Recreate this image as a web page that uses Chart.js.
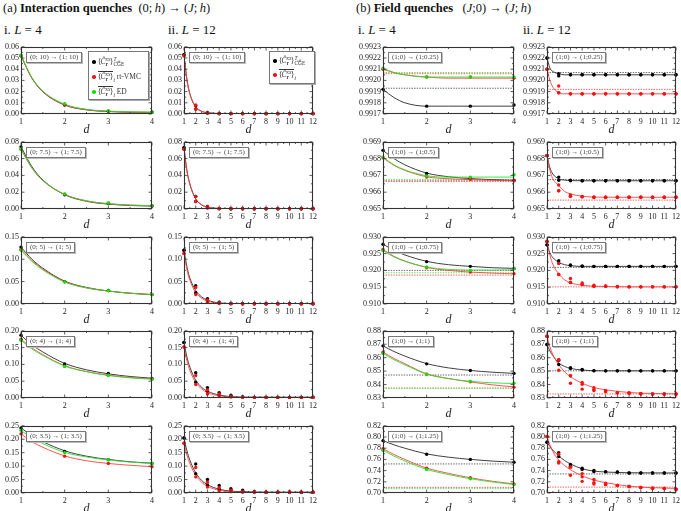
<!DOCTYPE html>
<html><head><meta charset="utf-8">
<script src="https://cdn.jsdelivr.net/npm/chart.js@4.4.1/dist/chart.umd.min.js"></script>
<style>
html,body{margin:0;padding:0;background:#fff;}
#wrap{position:relative;width:681px;height:511px;overflow:hidden;font-family:"Liberation Serif",serif;color:#111;}
canvas{position:absolute;}
.hdr{position:absolute;font-size:12.5px;white-space:nowrap;line-height:14px;}
.sub{position:absolute;font-size:13px;white-space:nowrap;line-height:15px;}
.qlab{position:absolute;font-size:7px;color:#444;border:1px solid #777;box-shadow:1px 1px 0 #bbb;background:#fff;padding:0 3px;line-height:9px;white-space:nowrap;}
.leg{position:absolute;background:#fff;border:1px solid #777;box-shadow:1px 1px 0 #aaa;font-size:7.5px;color:#333;}
.leg .row{position:absolute;left:0;height:14px;display:flex;align-items:center;white-space:nowrap;}
.leg .dot{width:3.6px;height:3.6px;border-radius:50%;display:inline-block;margin:0 2px 0 3px;}
.ss{display:inline-flex;flex-direction:column;font-size:72%;line-height:1;vertical-align:middle;}
.ov{border-top:0.7px solid #333;}
sub{font-size:72%;line-height:0;}
</style></head>
<body><div id="wrap"></div>
<script>
// ---------- axes / categories ----------
const dL4 = [1,2,3,4];
const dL12 = [1,2,3,4,5,6,7,8,9,10,11,12];
const cxL4 = [1,1.25,1.5,2,2.5,3,3.5,4];
const cxL12 = [1,1.25,1.5,2,2.5,3,4,5,6,8,12];
const yTicksA = [[0,0.01,0.02,0.03,0.04,0.05,0.06],[0,0.02,0.04,0.06,0.08],[0,0.05,0.10,0.15],[0,0.05,0.10,0.15,0.20],[0,0.05,0.10,0.15,0.20,0.25]];
const yTicksB = [[0.9917,0.9918,0.9919,0.9920,0.9921,0.9922,0.9923],[0.965,0.966,0.967,0.968,0.969],[0.910,0.915,0.920,0.925,0.930],[0.83,0.84,0.85,0.86,0.87,0.88],[0.70,0.72,0.74,0.76,0.78,0.80,0.82]];
const decA = [2,2,2,2,2];
const decB = [4,3,3,2,2];
const quenchA = ['(0; 10) → (1; 10)','(0; 7.5) → (1; 7.5)','(0; 5) → (1; 5)','(0; 4) → (1; 4)','(0; 3.5) → (1; 3.5)'];
const quenchB = ['(1;0) → (1;0.25)','(1;0) → (1;0.5)','(1;0) → (1;0.75)','(1;0) → (1;1)','(1;0) → (1;1.25)'];
const seriesNames = ['CGE','rt-VMC','ED'];

// ---------- (a) L=4 ----------
const a4Cge = [[0.052,0.008,0.0025,0.0015],[0.074,0.017,0.0065,0.0035],[0.127,0.050,0.030,0.021],[0.187,0.101,0.073,0.058],[0.242,0.155,0.124,0.110]];
const a4Vmc = [[0.052,0.0085,0.0026,0.0015],[0.071,0.0175,0.007,0.004],[0.122,0.050,0.030,0.021],[0.175,0.095,0.068,0.057],[0.220,0.137,0.110,0.098]];
const a4Ed  = [[0.0525,0.0093,0.0027,0.0016],[0.0715,0.018,0.0072,0.004],[0.120,0.049,0.030,0.021],[0.172,0.094,0.068,0.056],[0.233,0.150,0.124,0.110]];
const a4CgeFit = [[0.052,0.0319,0.0198,0.0080,0.0037,0.0022,0.0016,0.0014],[0.074,0.0504,0.0346,0.0170,0.0092,0.0058,0.0042,0.0035],[0.127,0.100,0.080,0.051,0.037,0.029,0.024,0.021],[0.187,0.158,0.137,0.103,0.084,0.072,0.064,0.059],[0.242,0.213,0.191,0.157,0.137,0.125,0.116,0.111]];
const a4VmcFit = [[0.052,0.0321,0.0201,0.0083,0.0039,0.0024,0.0017,0.0015],[0.071,0.0487,0.0337,0.0172,0.0096,0.0062,0.0046,0.0039],[0.122,0.097,0.078,0.050,0.036,0.029,0.024,0.021],[0.175,0.149,0.129,0.096,0.079,0.068,0.061,0.057],[0.220,0.191,0.170,0.138,0.120,0.110,0.103,0.098]];
const a4EdFit  = [[0.0525,0.0325,0.0205,0.0088,0.0042,0.0026,0.0019,0.0016],[0.0715,0.049,0.034,0.0175,0.0098,0.0064,0.0047,0.004],[0.120,0.095,0.076,0.049,0.036,0.029,0.024,0.021],[0.172,0.146,0.127,0.095,0.078,0.067,0.060,0.056],[0.233,0.205,0.184,0.151,0.134,0.123,0.115,0.110]];

// ---------- (a) L=12 ----------
const a12CgeHi = [
 [0.053,0.0075,0.0012,0.0004,0.0003,0.0003,0.0003,0.0003,0.0003,0.0003,0.0003,0.0003],
 [0.073,0.015,0.003,0.0005,0.0003,0.0003,0.0003,0.0003,0.0003,0.0003,0.0003,0.0003],
 [0.120,0.041,0.012,0.004,0.001,0.0005,0.0004,0.0004,0.0004,0.0004,0.0004,0.0004],
 [0.165,0.075,0.031,0.016,0.008,0.003,0.002,0.002,0.002,0.002,0.002,0.002],
 [0.205,0.108,0.050,0.028,0.016,0.010,0.005,0.003,0.003,0.004,0.003,0.003]];
const a12CgeLo = [
 [0.053,0.0045,0.0008,0.0003,0.0003,0.0003,0.0003,0.0003,0.0003,0.0003,0.0003,0.0003],
 [0.073,0.009,0.0015,0.0004,0.0003,0.0003,0.0003,0.0003,0.0003,0.0003,0.0003,0.0003],
 [0.120,0.025,0.008,0.002,0.0008,0.0005,0.0004,0.0004,0.0004,0.0004,0.0004,0.0004],
 [0.165,0.047,0.020,0.009,0.005,0.003,0.002,0.002,0.002,0.002,0.002,0.002],
 [0.205,0.072,0.030,0.015,0.010,0.006,0.004,0.003,0.003,0.003,0.003,0.003]];
const a12VmcHi = [
 [0.052,0.008,0.0012,0.0004,0.0003,0.0003,0.0003,0.0003,0.0003,0.0003,0.0003,0.0003],
 [0.071,0.015,0.003,0.0005,0.0003,0.0003,0.0003,0.0003,0.0003,0.0003,0.0003,0.0003],
 [0.113,0.037,0.009,0.003,0.001,0.0005,0.0004,0.0004,0.0004,0.0004,0.0004,0.0004],
 [0.152,0.067,0.024,0.012,0.005,0.003,0.002,0.002,0.002,0.002,0.002,0.002],
 [0.185,0.095,0.040,0.020,0.010,0.006,0.004,0.003,0.003,0.004,0.003,0.003]];
const a12VmcLo = [
 [0.052,0.0045,0.0008,0.0003,0.0003,0.0003,0.0003,0.0003,0.0003,0.0003,0.0003,0.0003],
 [0.071,0.009,0.0012,0.0003,0.0003,0.0003,0.0003,0.0003,0.0003,0.0003,0.0003,0.0003],
 [0.113,0.021,0.004,0.001,0.0005,0.0004,0.0004,0.0004,0.0004,0.0004,0.0004,0.0004],
 [0.152,0.040,0.012,0.007,0.003,0.002,0.002,0.002,0.002,0.002,0.002,0.002],
 [0.185,0.060,0.022,0.008,0.005,0.003,0.003,0.002,0.002,0.002,0.002,0.002]];
const a12CgeFit = [
 [0.053,0.031,0.018,0.0062,0.0024,0.0011,0.0004,0.0003,0.0003,0.0003,0.0003],
 [0.073,0.046,0.030,0.012,0.005,0.0022,0.0006,0.0003,0.0003,0.0003,0.0003],
 [0.120,0.083,0.058,0.030,0.016,0.0085,0.0025,0.0008,0.0004,0.0003,0.0003],
 [0.165,0.122,0.092,0.053,0.032,0.020,0.009,0.004,0.0025,0.002,0.002],
 [0.205,0.157,0.122,0.075,0.047,0.031,0.014,0.007,0.005,0.003,0.003]];
const a12VmcFit = [
 [0.052,0.030,0.018,0.0065,0.0025,0.0012,0.0004,0.0003,0.0003,0.0003,0.0003],
 [0.071,0.045,0.029,0.012,0.005,0.0022,0.0006,0.0003,0.0003,0.0003,0.0003],
 [0.113,0.077,0.053,0.026,0.013,0.0065,0.0018,0.0006,0.0003,0.0003,0.0003],
 [0.152,0.111,0.082,0.046,0.027,0.016,0.0065,0.003,0.002,0.002,0.002],
 [0.185,0.141,0.109,0.066,0.040,0.025,0.010,0.005,0.003,0.002,0.002]];

// ---------- (b) L=4 ----------
const b4Cge = [[0.99192,0.99177,0.99177,0.99178],[0.96849,0.96711,0.96681,0.96671],[0.9278,0.9226,0.9212,0.9206],[0.8688,0.8554,0.8505,0.8483],[0.7935,0.7692,0.7600,0.7548]];
const b4Vmc = [[0.99210,0.99203,0.99203,0.99202],[0.96805,0.96690,0.96677,0.96668],[0.9262,0.9208,0.9195,0.9190],[0.8641,0.8478,0.8420,0.8380],[0.7790,0.7444,0.7271,0.7162]];
const b4Ed  = [[0.99211,0.99203,0.99203,0.99203],[0.96809,0.96696,0.96690,0.96704],[0.9259,0.9210,0.9200,0.9205],[0.8632,0.8478,0.8424,0.8410],[0.7762,0.7421,0.7254,0.7150]];
const b4CgeFit = [[0.99192,0.991847,0.99180,0.99177,0.99177,0.99177,0.99177,0.99177],[0.96849,0.96800,0.96763,0.96714,0.96692,0.96681,0.96675,0.96671],[0.9278,0.9260,0.9246,0.9227,0.9217,0.9212,0.9208,0.9206],[0.8688,0.8646,0.8612,0.8556,0.8524,0.8505,0.8492,0.8483],[0.7935,0.7860,0.7800,0.7698,0.7640,0.7600,0.7570,0.7550]];
const b4VmcFit = [[0.99210,0.99207,0.99205,0.99203,0.99202,0.99202,0.99202,0.99202],[0.96805,0.96760,0.96730,0.96692,0.96680,0.96675,0.96671,0.96668],[0.9262,0.9242,0.9228,0.9209,0.9200,0.9195,0.9192,0.9190],[0.8641,0.8594,0.8555,0.8480,0.8445,0.8420,0.8398,0.8383],[0.7790,0.7688,0.7600,0.7446,0.7350,0.7272,0.7210,0.7163]];
const b4EdFit  = [[0.99211,0.99207,0.99205,0.99203,0.99203,0.99203,0.99203,0.99203],[0.96809,0.96763,0.96733,0.96698,0.96690,0.96690,0.96690,0.96690],[0.9259,0.9240,0.9227,0.9210,0.9203,0.9201,0.9201,0.9202],[0.8632,0.8585,0.8547,0.8478,0.8444,0.8424,0.8413,0.8408],[0.7762,0.7660,0.7572,0.7422,0.7330,0.7255,0.7197,0.7150]];
const b4CgeInf = [0.99193,0.96667,0.9200,0.8471,0.7519];
const b4VmcInf = [0.99206,0.96665,0.9186,0.8374,0.7100];
const b4EdInf  = [0.99207,0.96675,0.9193,0.8372,0.7082];

// ---------- (b) L=12 ----------
const b12CgeHi = [
 [0.99220,0.99206,0.99205,0.99205,0.99205,0.99205,0.99205,0.99205,0.99205,0.99205,0.99205,0.99205],
 [0.96818,0.96690,0.96672,0.96668,0.96668,0.96668,0.96668,0.96668,0.96668,0.96668,0.96668,0.96668],
 [0.9276,0.9229,0.9216,0.9213,0.9212,0.9212,0.9212,0.9212,0.9212,0.9212,0.9212,0.9212],
 [0.8698,0.8580,0.8526,0.8512,0.8504,0.8502,0.8502,0.8502,0.8502,0.8502,0.8502,0.8502],
 [0.7906,0.7721,0.7508,0.7444,0.7404,0.7381,0.7375,0.7358,0.7358,0.7358,0.7358,0.7358]];
const b12CgeLo = [
 [0.99220,0.99204,0.99205,0.99205,0.99205,0.99205,0.99205,0.99205,0.99205,0.99205,0.99205,0.99205],
 [0.96818,0.96671,0.96668,0.96668,0.96668,0.96668,0.96668,0.96668,0.96668,0.96668,0.96668,0.96668],
 [0.9276,0.9221,0.9215,0.9212,0.9212,0.9212,0.9212,0.9212,0.9212,0.9212,0.9212,0.9212],
 [0.8698,0.8549,0.8520,0.8508,0.8502,0.8502,0.8502,0.8502,0.8502,0.8502,0.8502,0.8502],
 [0.7906,0.7652,0.7479,0.7421,0.7381,0.7378,0.7372,0.7358,0.7358,0.7358,0.7358,0.7358]];
const b12VmcHi = [
 [0.99210,0.99195,0.99188,0.99188,0.99188,0.99188,0.99188,0.99188,0.99188,0.99188,0.99188,0.99188],
 [0.96818,0.96643,0.96584,0.96575,0.96570,0.96570,0.96570,0.96570,0.96570,0.96570,0.96570,0.96570],
 [0.9286,0.9221,0.9176,0.9163,0.9156,0.9154,0.9152,0.9151,0.9151,0.9151,0.9151,0.9151],
 [0.8759,0.8585,0.8466,0.8415,0.8376,0.8354,0.8339,0.8337,0.8332,0.8330,0.8330,0.8330],
 [0.8010,0.7692,0.7462,0.7346,0.7242,0.7173,0.7133,0.7115,0.7098,0.7087,0.7081,0.7069]];
const b12VmcMid = [
 [0.99210,0.99189,0.99188,0.99188,0.99188,0.99188,0.99188,0.99188,0.99188,0.99188,0.99188,0.99188],
 [0.96818,0.96609,0.96576,0.96573,0.96570,0.96570,0.96570,0.96570,0.96570,0.96570,0.96570,0.96570],
 [0.9286,0.9188,0.9164,0.9158,0.9153,0.9153,0.9151,0.9151,0.9151,0.9151,0.9151,0.9151],
 [0.8759,0.8585,0.8466,0.8402,0.8361,0.8354,0.8339,0.8337,0.8332,0.8330,0.8330,0.8330],
 [0.8010,0.7560,0.7462,0.7288,0.7185,0.7150,0.7133,0.7115,0.7098,0.7087,0.7081,0.7069]];
const b12VmcLo = [
 [0.99210,0.99189,0.99188,0.99188,0.99188,0.99188,0.99188,0.99188,0.99188,0.99188,0.99188,0.99188],
 [0.96818,0.96609,0.96576,0.96573,0.96570,0.96570,0.96570,0.96570,0.96570,0.96570,0.96570,0.96570],
 [0.9286,0.9188,0.9164,0.9158,0.9153,0.9153,0.9151,0.9151,0.9151,0.9151,0.9151,0.9151],
 [0.8759,0.8507,0.8410,0.8366,0.8356,0.8347,0.8339,0.8337,0.8332,0.8330,0.8330,0.8330],
 [0.8010,0.7537,0.7317,0.7208,0.7162,0.7150,0.7133,0.7115,0.7098,0.7087,0.7081,0.7069]];
const b12CgeFit = [
 [0.99220,0.99211,0.99208,0.99206,0.99205,0.99205,0.99205,0.99205,0.99205,0.99205,0.99205],
 [0.96818,0.96745,0.96708,0.96680,0.96672,0.96669,0.96668,0.96668,0.96668,0.96668,0.96668],
 [0.9276,0.9252,0.9238,0.9224,0.9217,0.9214,0.9212,0.9212,0.9212,0.9212,0.9212],
 [0.8698,0.8650,0.8615,0.8561,0.8535,0.8520,0.8508,0.8503,0.8502,0.8502,0.8502],
 [0.7906,0.7830,0.7765,0.7663,0.7580,0.7519,0.7433,0.7392,0.7375,0.7362,0.7358]];
const b12VmcFit = [
 [0.99210,0.99200,0.99194,0.99189,0.99188,0.99188,0.99188,0.99188,0.99188,0.99188,0.99188],
 [0.96818,0.96730,0.96680,0.96640,0.96605,0.96590,0.96576,0.96571,0.96570,0.96570,0.96570],
 [0.9286,0.9245,0.9218,0.9190,0.9172,0.9163,0.9156,0.9153,0.9152,0.9151,0.9151],
 [0.8759,0.8680,0.8622,0.8549,0.8495,0.8459,0.8410,0.8378,0.8361,0.8341,0.8330],
 [0.8010,0.7860,0.7740,0.7588,0.7490,0.7415,0.7306,0.7231,0.7185,0.7121,0.7081]];
const b12CgeInf = [0.99207,0.96675,0.9209,0.8502,0.7340];
const b12VmcInf = [0.99192,0.96553,0.9151,0.8330,0.7105];

// ---------- layout / style ----------
const F = '"Liberation Serif", serif';
const colLeft = [21,184,383,547], colRight = [152,314,514,677];
const rowTop = [46,141,236,330,425], plotH = 68;
const leftPad = [21,24,26,26], TOP = 6, RIGHT = 6, BOTTOM = 23;
const PT = {cge:'#000000', vmc:'#ff1010', ed:'#10e010'};
const LN = {cge:'#2a2a2a', vmc:'#ff4040', ed:'#30dd30'};
const INF = {cge:'#666666', vmc:'#ff5a5a', ed:'#5ae65a'};
const wrap = document.getElementById('wrap');

const framePlugin = {
  id:'frame',
  afterDatasetsDraw(chart){
    const {ctx, chartArea:a, scales:{x,y}} = chart;
    ctx.save();
    ctx.strokeStyle = '#333'; ctx.lineWidth = 1.1;
    const L = Math.round(a.left)+0.5, R = Math.round(a.right)-0.5, T = Math.round(a.top)+0.5, B = Math.round(a.bottom)-0.5;
    ctx.strokeRect(L, T, R-L, B-T);
    ctx.lineWidth = 0.8;
    ctx.beginPath();
    const xt = x.ticks.map(t=>t.value), yt = y.ticks.map(t=>t.value);
    xt.forEach((v,i)=>{
      const p = x.getPixelForValue(v);
      ctx.moveTo(p,B); ctx.lineTo(p,B-3); ctx.moveTo(p,T); ctx.lineTo(p,T+3);
      if(i<xt.length-1){const m=x.getPixelForValue((v+xt[i+1])/2);
        ctx.moveTo(m,B); ctx.lineTo(m,B-1.5); ctx.moveTo(m,T); ctx.lineTo(m,T+1.5);}
    });
    yt.forEach((v,i)=>{
      const p = y.getPixelForValue(v);
      ctx.moveTo(L,p); ctx.lineTo(L+3,p); ctx.moveTo(R,p); ctx.lineTo(R-3,p);
      if(i<yt.length-1){const m=y.getPixelForValue((v+yt[i+1])/2);
        ctx.moveTo(L,m); ctx.lineTo(L+1.5,m); ctx.moveTo(R,m); ctx.lineTo(R-1.5,m);}
    });
    ctx.stroke();
    ctx.restore();
  }
};

function pts(xs, ys, color){
  return {data:xs.map((x,i)=>({x, y:ys[i]})), showLine:false, pointRadius:1.7,
    pointBackgroundColor:color, pointBorderWidth:0, pointStyle:'circle', clip:false};
}
function curve(xs, ys, color){
  return {data:xs.map((x,i)=>({x, y:ys[i]})), showLine:true, pointRadius:0,
    borderColor:color, borderWidth:0.9, cubicInterpolationMode:'monotone', fill:false};
}
function inf(v, xMax, color){
  return {data:[{x:1,y:v},{x:xMax,y:v}], showLine:true, pointRadius:0,
    borderColor:color, borderWidth:1, borderDash:[1.4,1.2], fill:false};
}

function makeChart(col, row, datasets, xTicks, yTicks, dec){
  const lp = leftPad[col];
  const w = colRight[col]-colLeft[col]+lp+RIGHT, h = TOP+plotH+BOTTOM;
  const cv = document.createElement('canvas');
  cv.width = w; cv.height = h;
  cv.style.left = (colLeft[col]-lp)+'px'; cv.style.top = (rowTop[row]-TOP)+'px';
  cv.style.width = w+'px'; cv.style.height = h+'px';
  wrap.appendChild(cv);
  datasets.forEach((d,i)=>{ d.order = datasets.length - i; });
  new Chart(cv, {
    type:'scatter',
    data:{datasets},
    options:{
      responsive:false, animation:false, events:[],
      layout:{padding:{top:TOP, right:RIGHT, left:0, bottom:0}},
      plugins:{legend:{display:false}, tooltip:{enabled:false}},
      scales:{
        x:{type:'linear', min:xTicks[0], max:xTicks[xTicks.length-1],
          afterBuildTicks(s){ s.ticks = xTicks.map(v=>({value:v})); },
          afterFit(s){ s.height = BOTTOM; },
          grid:{display:false, drawTicks:false}, border:{display:false},
          ticks:{autoSkip:false, maxRotation:0, minRotation:0, padding:3, color:'#222',
                 font:{family:F, size:8}, callback:v=>String(v)},
          title:{display:true, text:'d', color:'#222', padding:0,
                 font:{family:F, size:12, style:'italic'}}},
        y:{type:'linear', min:yTicks[0], max:yTicks[yTicks.length-1],
          afterBuildTicks(s){ s.ticks = yTicks.map(v=>({value:v})); },
          afterFit(s){ s.width = lp; },
          grid:{display:false, drawTicks:false}, border:{display:false},
          ticks:{autoSkip:false, padding:2, color:'#222',
                 font:{family:F, size:8}, callback:v=>Number(v).toFixed(dec)}}
      }
    },
    plugins:[framePlugin]
  });
}

function addLabel(col, row, text){
  const d = document.createElement('div');
  d.className = 'qlab';
  d.style.left = (colLeft[col]+5)+'px';
  d.style.top = (rowTop[row]+6)+'px';
  d.textContent = text;
  wrap.appendChild(d);
}

// ---------- build panels ----------
for(let r=0;r<5;r++){
  makeChart(0, r, [
    curve(cxL4, a4CgeFit[r], LN.cge), curve(cxL4, a4VmcFit[r], LN.vmc), curve(cxL4, a4EdFit[r], LN.ed),
    pts(dL4, a4Cge[r], PT.cge), pts(dL4, a4Vmc[r], PT.vmc), pts(dL4, a4Ed[r], PT.ed)
  ], dL4, yTicksA[r], decA[r]);
  makeChart(1, r, [
    curve(cxL12, a12CgeFit[r], LN.cge), curve(cxL12, a12VmcFit[r], LN.vmc),
    pts(dL12, a12CgeHi[r], PT.cge), pts(dL12, a12CgeLo[r], PT.cge),
    pts(dL12, a12VmcHi[r], PT.vmc), pts(dL12, a12VmcLo[r], PT.vmc)
  ], dL12, yTicksA[r], decA[r]);
  makeChart(2, r, [
    inf(b4CgeInf[r], 4, INF.cge), inf(b4VmcInf[r], 4, INF.vmc), inf(b4EdInf[r], 4, INF.ed),
    curve(cxL4, b4CgeFit[r], LN.cge), curve(cxL4, b4VmcFit[r], LN.vmc), curve(cxL4, b4EdFit[r], LN.ed),
    pts(dL4, b4Cge[r], PT.cge), pts(dL4, b4Vmc[r], PT.vmc), pts(dL4, b4Ed[r], PT.ed)
  ], dL4, yTicksB[r], decB[r]);
  makeChart(3, r, [
    inf(b12CgeInf[r], 12, INF.cge), inf(b12VmcInf[r], 12, INF.vmc),
    curve(cxL12, b12CgeFit[r], LN.cge), curve(cxL12, b12VmcFit[r], LN.vmc),
    pts(dL12, b12CgeHi[r], PT.cge), pts(dL12, b12CgeLo[r], PT.cge),
    pts(dL12, b12VmcHi[r], PT.vmc), pts(dL12, b12VmcMid[r], PT.vmc), pts(dL12, b12VmcLo[r], PT.vmc)
  ], dL12, yTicksB[r], decB[r]);
  addLabel(0, r, quenchA[r]); addLabel(1, r, quenchA[r]);
  addLabel(2, r, quenchB[r]); addLabel(3, r, quenchB[r]);
}

// ---------- headers ----------
function addText(cls, left, top, html){
  const d = document.createElement('div'); d.className = cls;
  d.style.left = left+'px'; d.style.top = top+'px'; d.innerHTML = html; wrap.appendChild(d);
}
addText('hdr', 3, 1, '(a) <b>Interaction quenches</b> &nbsp;(0;&thinsp;<i>h</i>) → (<i>J</i>;&thinsp;<i>h</i>)');
addText('hdr', 356, 1, '(b) <b>Field quenches</b> &nbsp;&nbsp;(<i>J</i>;0) → (<i>J</i>;&thinsp;<i>h</i>)');
addText('sub', 4, 22, 'i. <i>L</i> = 4');
addText('sub', 168, 22, 'ii. <i>L</i> = 12');
addText('sub', 358, 22, 'i. <i>L</i> = 4');
addText('sub', 523, 22, 'ii. <i>L</i> = 12');

// ---------- legends ----------
const Cxx = '⟨<i>Ĉ</i><span class="ss"><span><i>xx</i></span><span><b>r</b></span></span>⟩';
const legCge = Cxx + '<span class="ss"><span><i>T</i><sub>eff</sub></span><span>' + seriesNames[0] + '</span></span>';
const legT = '<span class="ov">' + Cxx + '</span><sub><i>t</i></sub>';
function addLegend(left, top, w, h, entries){
  const box = document.createElement('div'); box.className = 'leg';
  box.style.left = left+'px'; box.style.top = top+'px'; box.style.width = w+'px'; box.style.height = h+'px';
  entries.forEach(([color, html, y])=>{
    const row = document.createElement('div'); row.className = 'row';
    row.style.top = (y-7)+'px';
    row.innerHTML = '<span class="dot" style="background:'+color+'"></span><span>'+html+'</span>';
    box.appendChild(row);
  });
  wrap.appendChild(box);
}
addLegend(88, 51, 59, 47, [[PT.cge, legCge, 10],[PT.vmc, legT+' '+seriesNames[1], 25],[PT.ed, legT+' '+seriesNames[2], 40]]);
addLegend(269, 51, 44, 31, [[PT.cge, legCge, 9],[PT.vmc, legT, 23]]);
</script>
</body></html>
